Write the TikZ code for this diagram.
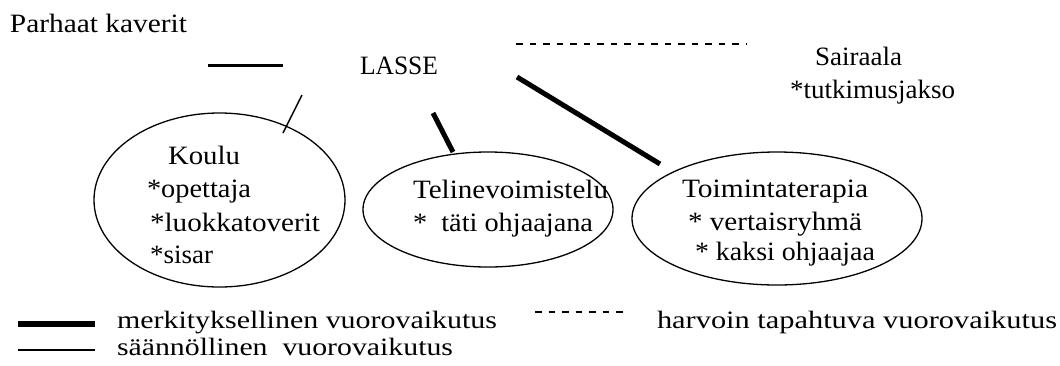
\documentclass[tikz,border=0pt]{standalone}
\usepackage{graphicx}
\usepackage{fontspec}
\setmainfont{Liberation Serif}
\usetikzlibrary{shapes.geometric}

% set a text to a given width while keeping its natural height
\newcommand{\fitto}[2]{\resizebox{#1pt}{\height}{#2}}

\tikzset{
  lbl/.style={anchor=base west, inner sep=0pt, outer sep=0pt,
              font=\fontsize{26.5}{30}\selectfont},
  keylbl/.style={lbl, font=\fontsize{25}{29}\selectfont},
  group/.style={ellipse, draw, line width=1.3pt, inner sep=0pt},
  strong/.style={line width=5pt},
  regular/.style={line width=1.4pt},
  rare/.style={line width=1.3pt, dash pattern=on 6.5pt off 7pt},
}

\begin{document}
\begin{tikzpicture}[x=1pt, y=-1pt]
  \useasboundingbox (0,0) rectangle (1060,365);

  % circles of everyday life
  \node[group, minimum width=251pt, minimum height=174pt] (koulu) at (219.5,200) {};
  \node[group, minimum width=250pt, minimum height=115pt] (teline) at (488,209.5) {};
  \node[group, minimum width=290pt, minimum height=133pt] (toiminta) at (777,218.5) {};

  % top row
  \node[lbl] (kaverit) at (10,32) {\fitto{177}{Parhaat kaverit}};
  \node[lbl] (lasse) at (360,74) {\fitto{78}{LASSE}};
  \node[lbl] (sairaala) at (815,65) {\fitto{87}{Sairaala}};
  \node[lbl] (tutkimus) at (790,98) {\fitto{165}{*tutkimusjakso}};

  % school
  \node[lbl] (kouluT) at (168,164) {\fitto{72}{Koulu}};
  \node[lbl] (opettaja) at (147,197.5) {\fitto{104}{*opettaja}};
  \node[lbl] (luokka) at (150,231) {\fitto{170}{*luokkatoverit}};
  \node[lbl] (sisar) at (150,263) {\fitto{63}{*sisar}};

  % gymnastics
  \node[lbl] (telineT) at (413,198) {\fitto{195}{Telinevoimistelu}};
  \node[lbl] (tati) at (413,231) {\fitto{180}{*\ \ täti ohjaajana}};

  % occupational therapy
  \node[lbl] (toimintaT) at (682,197.5) {\fitto{186}{Toimintaterapia}};
  \node[lbl] (vertais) at (688,230) {\fitto{174}{* vertaisryhmä}};
  \node[lbl] (kaksi) at (695,260) {\fitto{180}{* kaksi ohjaajaa}};

  % connector ends
  \coordinate (kaA) at (208,65);
  \coordinate (kaB) at (283,65);
  \coordinate (saA) at (516,44);
  \coordinate (saB) at (747,44);
  \coordinate (koA) at (302,95);
  \coordinate (koB) at (283,133);
  \coordinate (teA) at (433,113);
  \coordinate (teB) at (453,152);
  \coordinate (toA) at (517,77);
  \coordinate (toB) at (660,164);

  \draw[line width=3pt] (kaA) -- (kaB);
  \draw[rare] (saA) -- (saB);
  \draw[regular] (koA) -- (koB);
  \draw[strong] (teA) -- (teB);
  \draw[strong] (toA) -- (toB);

  % legend
  \coordinate (k1a) at (18,324);
  \coordinate (k1b) at (95,324);
  \coordinate (k2a) at (18,350);
  \coordinate (k2b) at (95,350);
  \coordinate (k3a) at (535,312);
  \coordinate (k3b) at (628,312);
  \draw[line width=6pt] (k1a) -- (k1b);
  \draw[line width=1.8pt] (k2a) -- (k2b);
  \draw[rare] (k3a) -- (k3b);
  \node[keylbl] (keyStrong) at (117,328) {\fitto{380}{merkityksellinen vuorovaikutus}};
  \node[keylbl] (keyRegular) at (117,355) {\fitto{336}{säännöllinen\ \ vuorovaikutus}};
  \node[keylbl] (keyRare) at (657,328) {\fitto{400}{harvoin tapahtuva vuorovaikutus}};
\end{tikzpicture}
\end{document}
